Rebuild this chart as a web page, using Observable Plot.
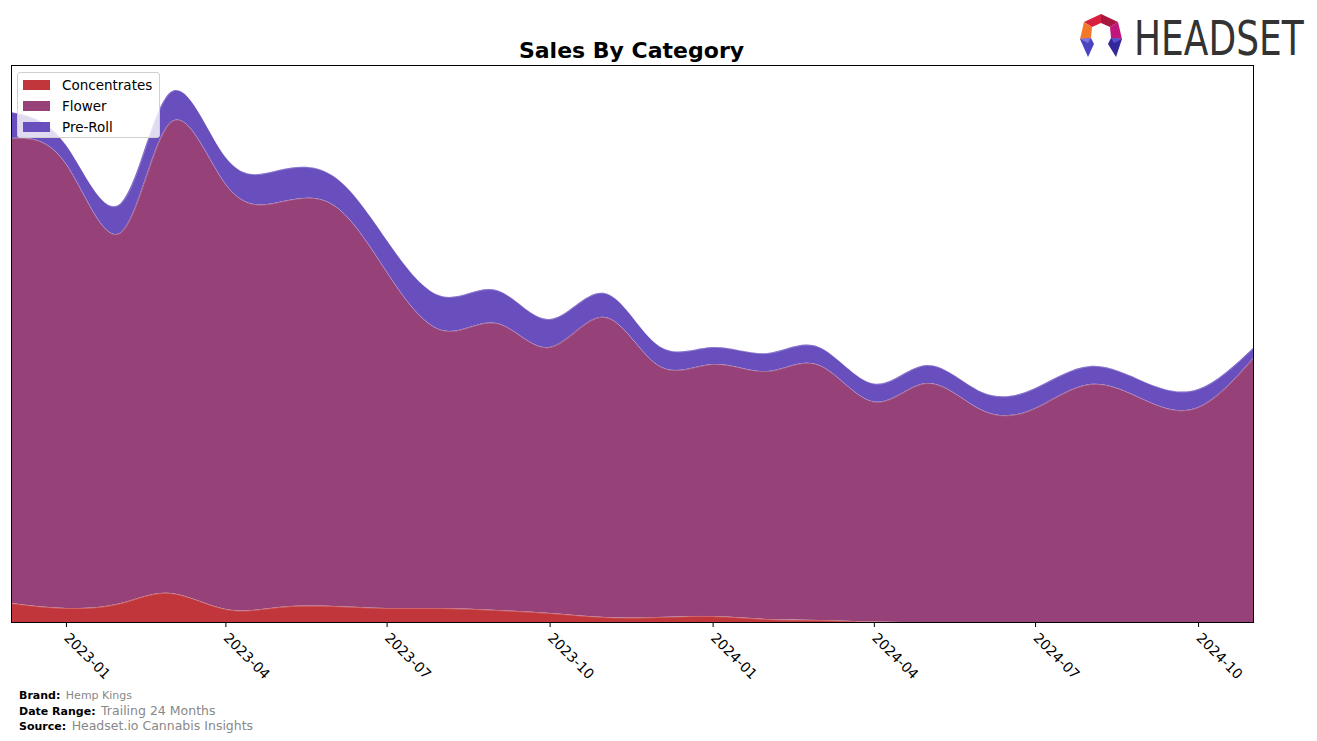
<!DOCTYPE html>
<html>
<head>
<meta charset="utf-8">
<script src="https://cdn.jsdelivr.net/npm/d3@7"></script>
<script src="https://cdn.jsdelivr.net/npm/@observablehq/plot@0.6"></script>
<style>
  body { margin: 0; background: #fff; font-family: "DejaVu Sans", sans-serif; }
  #wrap { position: relative; width: 1317px; height: 741px; overflow: hidden; }
  #chart { position: absolute; left: 0; top: 0; }
  #title { position: absolute; left: 0; width: 1263px; top: 38px; text-align: center; font-weight: bold; font-size: 22px; color: #000; }
  #legend { position: absolute; left: 17px; top: 72px; width: 143px; height: 66px; background: rgba(255,255,255,0.8); border: 1px solid #d0d0d0; border-radius: 3px; box-sizing: border-box; }
  .li { position: absolute; left: 5px; height: 16px; font-size: 13.5px; line-height: 16px; color: #000; white-space: nowrap; }
  .sw { display: inline-block; width: 27px; height: 10px; vertical-align: middle; margin-right: 12px; margin-top: -2px; }
  #footer { position: absolute; left: 19px; top: 689px; font-size: 11px; line-height: 14.5px; color: #000; }
  #footer b { font-weight: bold; }
  #footer span { color: #888; margin-left: 2px; }
  #logo { position: absolute; left: 1076px; top: 4px; }
</style>
</head>
<body>
<div id="wrap">
  <div id="chart"></div>
  <div id="title">Sales By Category</div>
  <div id="legend"></div>
  <div id="footer"></div>
  <svg id="logo" width="238" height="66" viewBox="0 -6 238 66">
    <polygon points="8,12 25,4 25,13 16,17" fill="#d8203f"/>
    <polygon points="25,4 42,12 34,17 25,13" fill="#a8173f"/>
    <polygon points="8,12 16,17 15,28 4,29" fill="#f2792a"/>
    <polygon points="42,12 46,29 35,28 34,17" fill="#c1167c"/>
    <polygon points="4,29 15,28 18,34 12,47" fill="#4a44c0"/>
    <polygon points="4,29 15,28 12,33" fill="#7d72e0"/>
    <polygon points="35,28 46,29 40,47 32,34" fill="#33289a"/>
    <polygon points="35,28 46,29 38,33" fill="#5a4fd0"/>
    <text transform="translate(58,45) scale(1,1.33)" x="0" y="0" font-family="'DejaVu Sans', sans-serif" font-size="36" fill="#333">HEADSET</text>
  </svg>
</div>
<script>
// ---- data ----
const months = ["2022-12","2023-01","2023-02","2023-03","2023-04","2023-05","2023-06","2023-07","2023-08","2023-09","2023-10","2023-11","2023-12","2024-01","2024-02","2024-03","2024-04","2024-05","2024-06","2024-07","2024-08","2024-09","2024-10","2024-11"];
const categories = ["Concentrates", "Flower", "Pre-Roll"];
const concentrates = [19, 14, 19, 29, 13, 15, 16, 14, 14, 12, 9, 5, 5, 6, 3, 2, 0.5, 0, 0, 0, 0, 0, 0, 0];
const flower = [465, 444, 371, 471, 425, 405, 401, 336, 278, 287, 266, 300, 252, 252, 248, 255, 220, 239, 212, 214, 238, 222, 215, 264];
const preroll = [26, 19, 29, 30, 27, 32, 29, 32, 34, 33, 28, 24, 20, 17, 18, 18, 18, 18, 18, 20, 18, 18, 18, 10];
const tickMonths = ["2023-01","2023-04","2023-07","2023-10","2024-01","2024-04","2024-07","2024-10"];
const colors = ["#c0363a", "#964178", "#694ebe"];

const parse = d3.utcParse("%Y-%m");
const series = [concentrates, flower, preroll];
const rows = [];
categories.forEach((c, ci) => {
  months.forEach((m, i) => rows.push({date: parse(m), category: c, value: series[ci][i]}));
});

const chart = Plot.plot({
  width: 1317,
  height: 741,
  marginLeft: 11,
  marginRight: 64,
  marginTop: 65,
  marginBottom: 119,
  style: {fontFamily: "DejaVu Sans, sans-serif", fontSize: "14px", color: "#000", background: "transparent"},
  x: {type: "utc", domain: [parse(months[0]), parse(months[months.length - 1])], ticks: tickMonths.map(parse), tickFormat: d3.utcFormat("%Y-%m"), tickRotate: 45, tickSize: 5, tickPadding: 8, label: null},
  y: {domain: [0, 557], axis: null},
  color: {domain: categories, range: colors},
  marks: [
    Plot.areaY(rows, Plot.stackY({order: categories}, {x: "date", y: "value", z: "category", fill: "category", curve: "natural", clip: true})),
    Plot.lineY(rows, Plot.stackY2({order: categories}, {x: "date", y: "value", z: "category", stroke: "#ffffff", strokeOpacity: 0.3, strokeWidth: 0.8, curve: "natural", clip: true})),
    Plot.frame({stroke: "#000", strokeWidth: 1})
  ]
});
document.getElementById("chart").appendChild(chart);

// legend
const lg = document.getElementById("legend");
categories.forEach((c, i) => {
  const d = document.createElement("div");
  d.className = "li";
  d.style.top = (4 + i * 21) + "px";
  d.innerHTML = `<span class="sw" style="background:${colors[i]}"></span>${c}`;
  lg.appendChild(d);
});

// footer
const footerLabels = ["Brand:", "Date Range:", "Source:"];
const footerValues = ["Hemp Kings", "Trailing 24 Months", "Headset.io Cannabis Insights"];
const footerSizes = ["11px", "12.5px", "12.5px"];
document.getElementById("footer").innerHTML = footerLabels.map((l, i) =>
  `<div><b>${l}</b> <span style="font-size:${footerSizes[i]}">${footerValues[i]}</span></div>`).join("");
</script>
</body>
</html>
